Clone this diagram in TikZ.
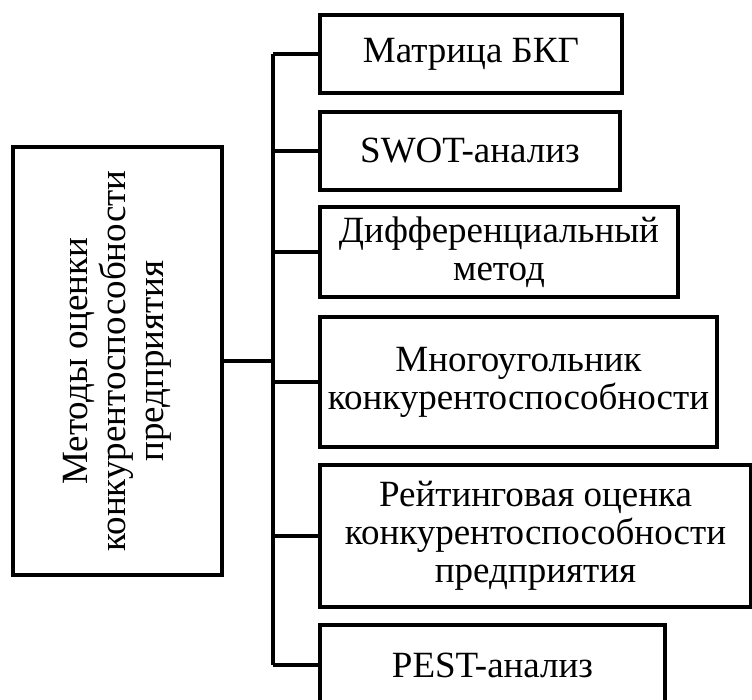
\documentclass[tikz,border=0pt]{standalone}
\usepackage{fontspec}
\setmainfont{Liberation Serif}
\begin{document}
\begin{tikzpicture}[x=1pt,y=-1pt,
	box/.style={draw,line width=3.5pt,inner sep=0pt,align=center,font=\fontsize{37}{38}\selectfont},
	link/.style={line width=3.5pt}]
	\useasboundingbox (0,0) rectangle (752,699);
	\begin{scope}
	\clip (0,0) rectangle (752,699);
	\node[box,minimum width=209,minimum height=428] (main) at (117.5,361) {\rotatebox{90}{\begin{tabular}{@{}c@{}}Методы оценки\\конкурентоспособности\\предприятия\end{tabular}}};
	\node[box,minimum width=302,minimum height=78] (bkg) at (471,54) {Матрица БКГ};
	\node[box,minimum width=300,minimum height=78] (swot) at (470,151) {SWOT-анализ};
	\node[box,minimum width=358,minimum height=90] (diff) at (499,252) {Дифференциальный\\метод};
	\node[box,minimum width=397,minimum height=130] (poly) at (518.5,382) {Многоугольник\\конкурентоспособности};
	\node[box,minimum width=431,minimum height=142] (rate) at (535.5,536) {Рейтинговая оценка\\конкурентоспособности\\предприятия};
	\node[box,minimum width=345,minimum height=80] (pest) at (492.5,665) {PEST-анализ};
	\coordinate (tr) at (273,0);
	\draw[link] (bkg.west -| tr) -- (pest.west -| tr);
	\draw[link] (main.east) -- (main.east -| tr);
	\foreach \b in {bkg,swot,diff,poly,rate,pest}
		\draw[link] (\b.west -| tr) -- (\b.west);
	\end{scope}
\end{tikzpicture}
\end{document}
